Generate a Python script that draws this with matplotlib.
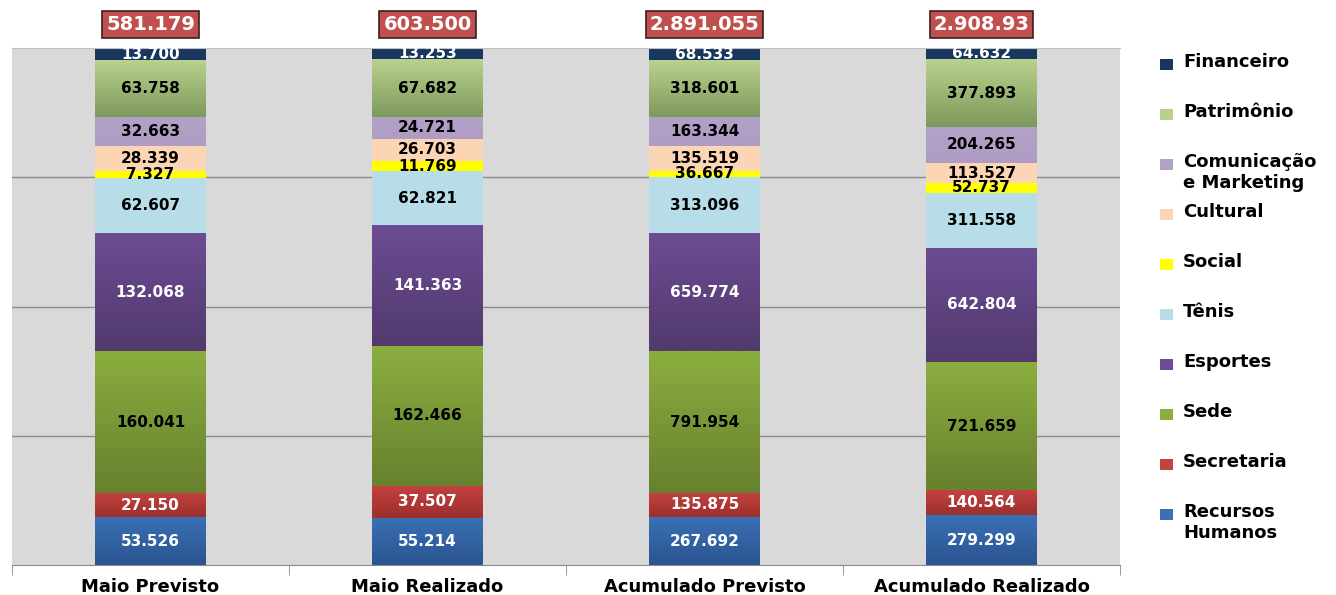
import numpy as np
import matplotlib.pyplot as plt
from matplotlib.colors import LinearSegmentedColormap
from matplotlib.patches import Rectangle

# categorias e series (de baixo para cima)
categorias = ['Maio Previsto', 'Maio Realizado', 'Acumulado Previsto', 'Acumulado Realizado']
totais = ['581.179', '603.500', '2.891.055', '2.908.93']

rh = [53526, 55214, 267692, 279299]
secretaria = [27150, 37507, 135875, 140564]
sede = [160041, 162466, 791954, 721659]
esportes = [132068, 141363, 659774, 642804]
tenis = [62607, 62821, 313096, 311558]
social = [7327, 11769, 36667, 52737]
cultural = [28339, 26703, 135519, 113527]
comunicacao = [32663, 24721, 163344, 204265]
patrimonio = [63758, 67682, 318601, 377893]
financeiro = [13700, 13253, 68533, 64632]

series = [
    ('Recursos\nHumanos', rh, '#3A70B5', '#2A5490', 'white'),
    ('Secretaria', secretaria, '#C4423F', '#9C2F2D', 'white'),
    ('Sede', sede, '#8BAE3F', '#67812E', 'black'),
    ('Esportes', esportes, '#6C4C94', '#523A6D', 'white'),
    ('Tênis', tenis, '#B7DEE8', '#B7DEE8', 'black'),
    ('Social', social, '#FFFF00', '#FFFF00', 'black'),
    ('Cultural', cultural, '#FCD5B4', '#FCD5B4', 'black'),
    ('Comunicação\ne Marketing', comunicacao, '#B3A2C7', '#AE9CC4', 'black'),
    ('Patrimônio', patrimonio, '#B9D18D', '#7E9A5C', 'black'),
    ('Financeiro', financeiro, '#17375E', '#17375E', 'white'),
]


def fmt(v):
    return f'{v:,}'.replace(',', '.')


fig = plt.figure(figsize=(13.36, 5.95), dpi=100)
ax = fig.add_axes([12 / 1336, 30 / 595, 1108 / 1336, 517 / 595])
ax.set_facecolor('#D9D9D9')

x = np.arange(len(categorias))
totals = np.sum([s[1] for s in series], axis=0)
bottom = np.zeros(len(categorias))
width = 0.40

for nome, vals, top_c, bot_c, tc in series:
    pct = np.array(vals) / totals * 100
    bars = ax.bar(x, pct, width, bottom=bottom, color=top_c, edgecolor='none', zorder=2)
    cmap = LinearSegmentedColormap.from_list('g', [bot_c, top_c])
    for b, v, p, b0 in zip(bars, vals, pct, bottom):
        if top_c != bot_c:
            grad = np.linspace(0, 1, 64).reshape(-1, 1)
            im = ax.imshow(grad, cmap=cmap, origin='lower', aspect='auto',
                           extent=[b.get_x(), b.get_x() + b.get_width(), b0, b0 + p], zorder=2.5)
            im.set_clip_path(b)
        ax.text(b.get_x() + b.get_width() / 2, b0 + p / 2, fmt(v), ha='center', va='center',
                color=tc, fontsize=11, fontweight='bold', zorder=4)
    bottom += pct

for xi, t in zip(x, totais):
    ax.text(xi, 104.6, t, ha='center', va='center', color='white', fontsize=14,
            fontweight='bold', clip_on=False,
            bbox=dict(boxstyle='square,pad=0.2', fc='#C0504D', ec='#3A1F1F', lw=1.2))

ax.set_xlim(-0.5, 3.5)
ax.set_ylim(0, 100)
ax.set_yticks([25, 50, 75])
ax.yaxis.grid(True, color='#8A8A8A', lw=1)
ax.set_axisbelow(True)
ax.tick_params(axis='y', left=False, labelleft=False)
ax.set_xticks(x)
ax.set_xticklabels(categorias, fontsize=13, fontweight='bold')
ax.tick_params(axis='x', length=0, pad=9)
ax.set_xticks(np.arange(-0.5, 4, 1), minor=True)
ax.tick_params(axis='x', which='minor', length=7, color='#8A8A8A', direction='out')
for s in ['right', 'left']:
    ax.spines[s].set_visible(False)
ax.spines['bottom'].set_color('#8A8A8A')
ax.spines['top'].set_color('#BFBFBF')

# legenda
for i, (nome, vals, top_c, bot_c, tc) in enumerate(series[::-1]):
    ytop = 1 - (59 + 50 * i) / 595
    fig.patches.append(Rectangle((1160 / 1336, ytop - 11 / 595), 13 / 1336, 11 / 595,
                                 transform=fig.transFigure, fc=top_c, ec='none'))
    fig.text(1183 / 1336, ytop + 6 / 595, nome, ha='left', va='top', fontsize=13,
             fontweight='bold', linespacing=1.2)

fig.savefig('out.png', dpi=100)
